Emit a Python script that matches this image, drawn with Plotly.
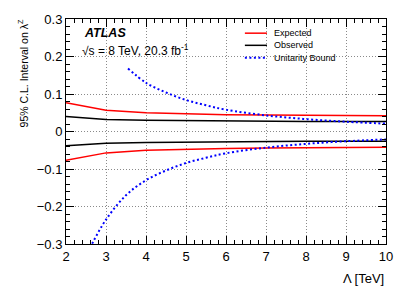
import plotly.graph_objects as go

# Data
lam = [2, 3, 4, 5, 6, 7, 8, 9, 10]
exp_up = [0.077, 0.057, 0.050, 0.047, 0.045, 0.044, 0.043, 0.042, 0.042]
exp_dn = [-0.077, -0.057, -0.050, -0.047, -0.045, -0.044, -0.043, -0.042, -0.042]
obs_up = [0.040, 0.032, 0.030, 0.029, 0.028, 0.028, 0.027, 0.027, 0.027]
obs_dn = [-0.038, -0.031, -0.029, -0.028, -0.027, -0.027, -0.026, -0.026, -0.026]
ub_lam_up = [3.55, 4.0, 4.5, 5.0, 5.5, 6.0, 7.0, 8.0, 9.0, 10.0]
ub_up = [0.168, 0.130, 0.104, 0.084, 0.070, 0.058, 0.043, 0.033, 0.026, 0.021]
ub_lam_dn = [2.6, 3.0, 3.5, 4.0, 4.5, 5.0, 5.5, 6.0, 7.0, 8.0, 9.0, 10.0]
ub_dn = [-0.31, -0.235, -0.170, -0.130, -0.104, -0.084, -0.070, -0.058, -0.043, -0.033, -0.026, -0.021]

y_ticks = [-0.3, -0.2, -0.1, 0, 0.1, 0.2, 0.3]
y_ticktext = ["\u22120.3", "\u22120.2", "\u22120.1", "0", "0.1", "0.2", "0.3"]
x_ticks = [2, 3, 4, 5, 6, 7, 8, 9, 10]

legend_names = ["Expected", "Observed", "Unitarity Bound"]
legend_colors = ["#ff0000", "#000000", "#0000ff"]
legend_dash = ["solid", "solid", "2px,2.5px"]

FONT = "Liberation Sans, Arial, sans-serif"

fig = go.Figure()
fig.add_trace(go.Scatter(x=lam, y=exp_up, mode="lines", line=dict(color="#ff0000", width=1.5)))
fig.add_trace(go.Scatter(x=lam, y=exp_dn, mode="lines", line=dict(color="#ff0000", width=1.5)))
fig.add_trace(go.Scatter(x=lam, y=obs_up, mode="lines", line=dict(color="#000000", width=1.5)))
fig.add_trace(go.Scatter(x=lam, y=obs_dn, mode="lines", line=dict(color="#000000", width=1.5)))
fig.add_trace(go.Scatter(x=ub_lam_up, y=ub_up, mode="lines",
                         line=dict(color="#0000ff", width=2, dash="2px,2.5px", shape="spline")))
fig.add_trace(go.Scatter(x=ub_lam_dn, y=ub_dn, mode="lines",
                         line=dict(color="#0000ff", width=2, dash="2px,2.5px", shape="spline")))

axis_common = dict(
    showline=True, linecolor="black", linewidth=1, mirror="ticks",
    ticks="inside", ticklen=8, tickcolor="black", tickwidth=1,
    showgrid=True, gridcolor="#8a8a8a", griddash="1px,2px", gridwidth=1,
    zeroline=False,
    tickfont=dict(family=FONT, size=13, color="black"),
)

fig.update_xaxes(range=[2, 10], tickvals=x_ticks,
                 minor=dict(ticks="inside", ticklen=4, dtick=0.2, tick0=2, tickcolor="black", showgrid=False),
                 **axis_common)
fig.update_yaxes(range=[-0.3, 0.3], tickvals=y_ticks, ticktext=y_ticktext,
                 minor=dict(ticks="inside", ticklen=4, dtick=0.02, tick0=0, tickcolor="black", showgrid=False),
                 **axis_common)

# Legend (manual, compact like ROOT)
leg_y = [0.937, 0.883, 0.828]
for name, col, dsh, yy in zip(legend_names, legend_colors, legend_dash, leg_y):
    fig.add_shape(type="line", xref="paper", yref="paper", x0=0.559, x1=0.628, y0=yy, y1=yy,
                  line=dict(color=col, width=1.5 if dsh == "solid" else 2, dash=dsh))
    fig.add_annotation(text=name, xref="paper", yref="paper", x=0.644, y=yy,
                       xanchor="left", yanchor="middle", showarrow=False,
                       font=dict(family=FONT, size=9, color="black"))

fig.add_annotation(text="\u039b [TeV]", xref="paper", yref="paper", x=1.0, y=-0.112,
                   xanchor="right", yanchor="top", showarrow=False,
                   font=dict(family=FONT, size=13, color="black"))
fig.add_annotation(text="95% C.L. Interval on \u03bb<sup>Z</sup>", xref="paper", yref="paper",
                   x=-0.133, y=1.009, xanchor="center", yanchor="top", textangle=-90, showarrow=False,
                   font=dict(family=FONT, size=10.5, color="black"))
fig.add_annotation(text="<b><i>ATLAS</i></b>", xref="paper", yref="paper", x=0.05, y=0.937,
                   xanchor="left", yanchor="middle", showarrow=False,
                   font=dict(family=FONT, size=12.5, color="black"))
fig.add_annotation(text="\u221as = 8 TeV, 20.3 fb<sup>-1</sup>", xref="paper", yref="paper", x=0.045, y=0.862,
                   xanchor="left", yanchor="middle", showarrow=False,
                   font=dict(family=FONT, size=12, color="black"))

fig.update_layout(
    width=407, height=292,
    margin=dict(l=66, r=21, t=15, b=48),
    paper_bgcolor="white", plot_bgcolor="white",
    showlegend=False,
)

fig.write_html("out.html", config={"displayModeBar": False},
               post_script="document.body.style.margin='0';")
